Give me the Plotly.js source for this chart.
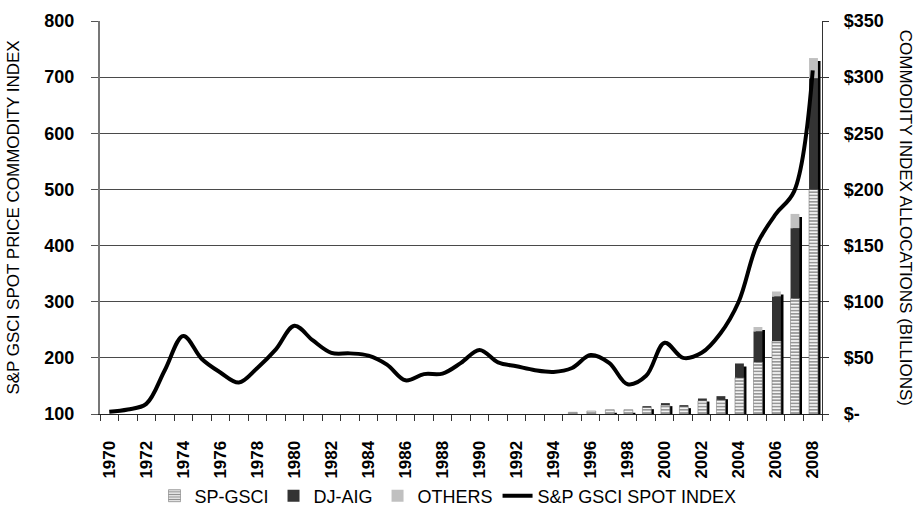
<!DOCTYPE html>
<html>
<head>
<meta charset="utf-8">
<script src="https://cdn.plot.ly/plotly-3.0.1.min.js"></script>
<style>
  html, body { margin: 0; padding: 0; background: #ffffff; }
  #chart { width: 920px; height: 514px; }
</style>
</head>
<body>
<div id="chart"></div>
<script>
// ---- data ----
var years = [1970,1971,1972,1973,1974,1975,1976,1977,1978,1979,
             1980,1981,1982,1983,1984,1985,1986,1987,1988,1989,
             1990,1991,1992,1993,1994,1995,1996,1997,1998,1999,
             2000,2001,2002,2003,2004,2005,2006,2007,2008];

// S&P GSCI spot index (left axis)
var spotIndex = [104,108,118,178,239,198,174,156,182,215,
                 257,231,209,208,204,188,160,171,172,191,
                 214,192,185,178,175,182,205,191,153,168,
                 227,200,209,243,300,403,456,497,712];

// Commodity index allocations, $ billions (right axis)
var spGsci = [0,0,0,0,0,0,0,0,0,0,
              0,0,0,0,0,0,0,0,0,0,
              0,0,0,0,0,1.5,2.6,3.8,3.8,5.8,
              7.9,6.5,11.8,12.6,32.4,46.2,65,103,200];
var djAig  = [0,0,0,0,0,0,0,0,0,0,
              0,0,0,0,0,0,0,0,0,0,
              0,0,0,0,0,0,0,0,0,1.2,
              1.8,1.4,2,3.3,12.6,27.4,39.7,62.5,99];
var others = [0,0,0,0,0,0,0,0,0,0,
              0,0,0,0,0,0,0,0,0,0,
              0,0,0,0,0,0,0,0,0,0,
              0,0,0,0,0,3.9,4.4,12.7,18];

var leftTicks = [100,200,300,400,500,600,700,800];
var rightTicks = [0,50,100,150,200,250,300,350];
var rightTickText = ['$-','$50','$100','$150','$200','$250','$300','$350'];
var xLabelYears = [1970,1972,1974,1976,1978,1980,1982,1984,1986,1988,1990,
                   1992,1994,1996,1998,2000,2002,2004,2006,2008];

// ---- derived ----
function nz(a){ return a.map(function(v){ return v > 0 ? v : null; }); }
var djBase = spGsci.slice();
var otBase = spGsci.map(function(v,i){ return v + djAig[i]; });
var totals = spGsci.map(function(v,i){ return v + djAig[i] + others[i]; });
var boundaries = years.map(function(y){ return y - 0.5; }).concat([years[years.length-1] + 0.5]);

var BAR_W = 0.48, BAR_OFF = -0.2;
var FAM = 'Liberation Sans, Arial, sans-serif';

var traces = [
  { // shadow behind bars
    type: 'bar', x: years, y: nz(totals), base: 0,
    xaxis: 'x', yaxis: 'y',
    width: 0.5, offset: -0.08,
    marker: { color: '#000000', line: { width: 0 } },
    showlegend: false, hoverinfo: 'skip'
  },
  {
    type: 'bar', name: 'SP-GSCI', x: years, y: nz(spGsci), base: 0,
    xaxis: 'x', yaxis: 'y2', width: BAR_W, offset: BAR_OFF,
    marker: { color: '#f2f2f2',
              pattern: { shape: '-', fgcolor: '#8c8c8c', bgcolor: '#f4f4f4', size: 3.2, solidity: 0.45 },
              line: { color: '#7a7a7a', width: 0.6 } }
  },
  {
    type: 'bar', name: 'DJ-AIG', x: years, y: nz(djAig), base: djBase,
    xaxis: 'x', yaxis: 'y2', width: BAR_W, offset: BAR_OFF,
    marker: { color: '#333333', line: { width: 0 } }
  },
  {
    type: 'bar', name: 'OTHERS', x: years, y: nz(others), base: otBase,
    xaxis: 'x', yaxis: 'y2', width: BAR_W, offset: BAR_OFF,
    marker: { color: '#c0c0c0', line: { width: 0 } }
  },
  {
    type: 'scatter', mode: 'lines', name: 'S&P GSCI SPOT INDEX',
    x: years, y: spotIndex, xaxis: 'x', yaxis: 'y3',
    line: { color: '#000000', width: 4, shape: 'spline', smoothing: 1 }
  }
];

var tickFont = { family: FAM, size: 18, color: '#000000', weight: 'bold' };

var layout = {
  width: 920, height: 514,
  margin: { l: 100, r: 98, t: 21, b: 100, autoexpand: false },
  paper_bgcolor: '#ffffff', plot_bgcolor: 'rgba(0,0,0,0)',
  barmode: 'overlay',
  font: { family: FAM, color: '#000000' },
  showlegend: true,
  legend: {
    orientation: 'h', x: 0.482, xanchor: 'center',
    yref: 'container', y: 0.035, yanchor: 'middle',
    font: { family: FAM, size: 18, color: '#000000' }, traceorder: 'normal',
    itemwidth: 30, tracegroupgap: 0
  },
  xaxis: {
    range: [1969.5, 2008.5], fixedrange: true,
    tickmode: 'array', tickvals: xLabelYears, ticktext: xLabelYears.map(String),
    tickangle: -90, ticks: '', ticklabelstandoff: 19,
    tickfont: { family: FAM, size: 17, color: '#000000', weight: 'bold' },
    showgrid: false, zeroline: false,
    showline: true, linecolor: '#222222', linewidth: 1,
    minor: { tickmode: 'array', tickvals: boundaries, ticks: 'outside', ticklen: 6, tickcolor: '#333333', tickwidth: 1, showgrid: false }
  },
  yaxis: {
    range: [2.7, 352.7], visible: false, fixedrange: true, showgrid: false, zeroline: false
  },
  yaxis2: {
    overlaying: 'y', side: 'right', anchor: 'x',
    range: [0, 350], fixedrange: true,
    tickmode: 'array', tickvals: rightTicks, ticktext: rightTickText,
    ticks: 'outside', ticklen: 6, tickcolor: '#333333', ticklabelstandoff: 11,
    tickfont: tickFont,
    showgrid: true, gridcolor: '#4a4a4a', gridwidth: 1,
    zeroline: false, showline: true, linecolor: '#333333', linewidth: 1.2
  },
  yaxis3: {
    overlaying: 'y', side: 'left', anchor: 'x',
    range: [100, 800], fixedrange: true,
    tickmode: 'array', tickvals: leftTicks, ticktext: leftTicks.map(String),
    ticks: 'outside', ticklen: 7, tickcolor: '#555555', ticklabelstandoff: 13,
    tickfont: tickFont,
    showgrid: false, zeroline: false, showline: true, linecolor: '#777777', linewidth: 2,
    title: { text: 'S&P GSCI SPOT PRICE COMMODITY INDEX', font: { family: FAM, size: 17, color: '#000000' }, standoff: 20 }
  },
  annotations: [{
    text: 'COMMODITY INDEX ALLOCATIONS (BILLIONS)',
    xref: 'paper', yref: 'paper', x: 1.116, y: 0.5, xanchor: 'center', yanchor: 'middle',
    textangle: 90, showarrow: false, font: { family: FAM, size: 17, color: '#000000' }
  }]
};

Plotly.newPlot('chart', traces, layout, { displayModeBar: false, staticPlot: true });
</script>
</body>
</html>
